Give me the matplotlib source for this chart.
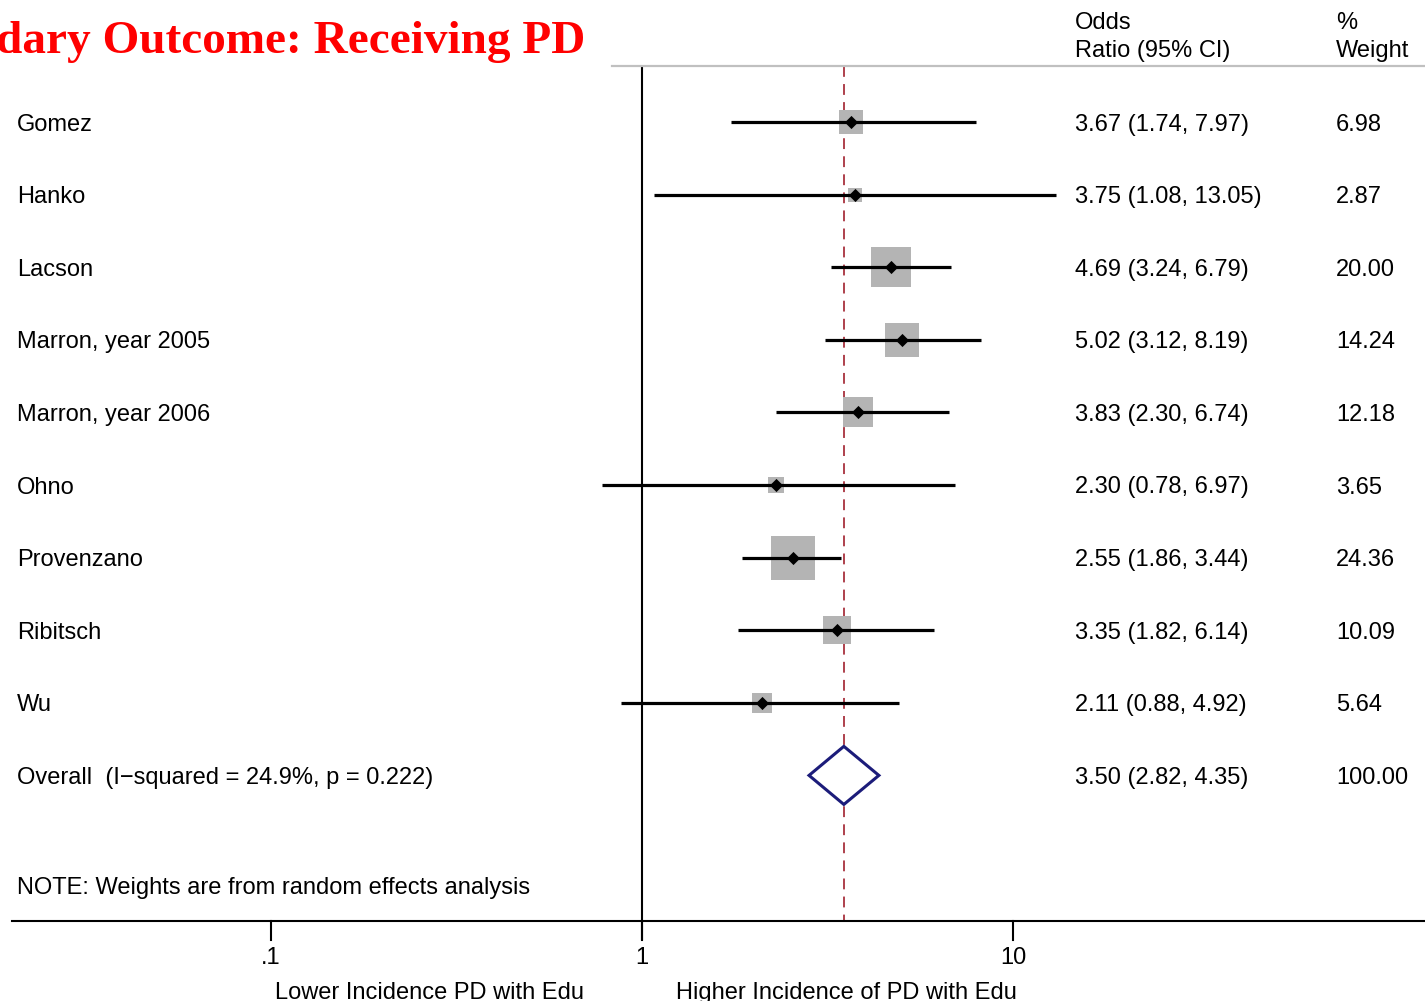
import numpy as np
import matplotlib
matplotlib.use("Agg")
import matplotlib.pyplot as plt
import matplotlib.transforms as transforms

# study data
studies = ["Gomez", "Hanko", "Lacson", "Marron, year 2005", "Marron, year 2006",
           "Ohno", "Provenzano", "Ribitsch", "Wu"]
odds = [3.67, 3.75, 4.69, 5.02, 3.83, 2.30, 2.55, 3.35, 2.11]
lower = [1.74, 1.08, 3.24, 3.12, 2.30, 0.78, 1.86, 1.82, 0.88]
upper = [7.97, 13.05, 6.79, 8.19, 6.74, 6.97, 3.44, 6.14, 4.92]
weights = [6.98, 2.87, 20.00, 14.24, 12.18, 3.65, 24.36, 10.09, 5.64]

overall_label = "Overall  (I\u2212squared = 24.9%, p = 0.222)"
overall = (3.50, 2.82, 4.35)
overall_weight = 100.00

xticks = [0.1, 1, 10]
xticklabels = [".1", "1", "10"]

# figure: one axes over the whole canvas, log x, rows on y
fig = plt.figure(figsize=(14.25, 10.01), dpi=100)
ax = fig.add_axes([0, 0, 1, 1])
ax.set_xscale("log")
decade = 371.0   # pixels per decade
x_one = 642.0    # pixel of OR = 1
row_h = 72.6
ax.set_xlim(10 ** (-x_one / decade), 10 ** ((1425 - x_one) / decade))
ax.set_ylim((1001 - 122) / row_h, -122 / row_h)
ax.axis("off")

blend = transforms.blended_transform_factory(ax.transAxes, ax.transData)
def fx(p):
    return p / 1425.0
def fy(p):
    return (p - 122) / row_h

font = "Liberation Sans"
fs = 17
tdy = 2.5 / row_h  # small nudge so text centres sit on the rows

top = fy(66)
bottom = len(studies) + 2  # axis row

# reference lines
ax.plot([1, 1], [top, bottom + 0.27], color="black", lw=1.5, solid_capstyle="butt")
ax.plot([overall[0], overall[0]], [top, bottom], color="#a8323e", lw=1.3,
        dashes=(6, 4))

# header rule and x axis
ax.plot([fx(612), 1], [top, top], color="#c0c0c0", lw=1.6, transform=blend)
ax.plot([fx(12), 1], [bottom, bottom], color="black", lw=1.5, transform=blend)
for t, lab in zip(xticks, xticklabels):
    ax.plot([t, t], [bottom, bottom + 0.27], color="black", lw=1.5)
    ax.text(t, fy(955) + tdy, lab, ha="center", va="center", fontsize=fs, family=font)

# studies
for i, (name, o, lo, hi, w) in enumerate(zip(studies, odds, lower, upper, weights)):
    side = 8.8 * np.sqrt(w) * 0.72
    ax.scatter([o], [i], marker="s", s=side ** 2, color="#b4b4b4", zorder=2,
               linewidths=0)
    ax.plot([lo, hi], [i, i], color="black", lw=2.3, zorder=3, solid_capstyle="butt")
    ax.scatter([o], [i], marker="D", s=45, color="black", zorder=4, linewidths=0)
    ax.text(fx(17), i + tdy, name, ha="left", va="center", fontsize=fs, family=font,
            transform=blend)
    ax.text(fx(1075), i + tdy, "%.2f (%.2f, %.2f)" % (o, lo, hi), ha="left",
            va="center", fontsize=fs, family=font, transform=blend)
    ax.text(fx(1336), i + tdy, "%.2f" % w, ha="left", va="center", fontsize=fs,
            family=font, transform=blend)

# overall diamond
n = len(studies)
est, lo, hi = overall
ax.fill([lo, est, hi, est, lo], [n, n - 0.4, n, n + 0.4, n], facecolor="white",
        edgecolor="#1c1c7a", lw=2.2, zorder=5)
ax.text(fx(17), n + tdy, overall_label, ha="left", va="center", fontsize=fs,
        family=font, transform=blend)
ax.text(fx(1075), n + tdy, "%.2f (%.2f, %.2f)" % overall, ha="left", va="center",
        fontsize=fs, family=font, transform=blend)
ax.text(fx(1336), n + tdy, "%.2f" % overall_weight, ha="left", va="center",
        fontsize=fs, family=font, transform=blend)

# note
ax.text(fx(17), fy(885) + tdy, "NOTE: Weights are from random effects analysis",
        ha="left", va="center", fontsize=fs, family=font, transform=blend)

# headers
ax.text(fx(1075), fy(20) + tdy, "Odds", ha="left", va="center", fontsize=fs,
        family=font, transform=blend)
ax.text(fx(1075), fy(48) + tdy, "Ratio (95% CI)", ha="left", va="center",
        fontsize=fs, family=font, transform=blend)
ax.text(fx(1336), fy(20) + tdy, "%", ha="left", va="center", fontsize=fs,
        family=font, transform=blend)
ax.text(fx(1336), fy(48) + tdy, "Weight", ha="left", va="center", fontsize=fs,
        family=font, transform=blend)

# direction labels
ax.text(fx(275), fy(990) + tdy, "Lower Incidence PD with Edu", ha="left",
        va="center", fontsize=fs, family=font, transform=blend)
ax.text(fx(676), fy(990) + tdy, "Higher Incidence of PD with Edu", ha="left",
        va="center", fontsize=fs, family=font, transform=blend)

# title (cut off on the left like the source)
ax.text(fx(585), fy(53), "Secondary Outcome: Receiving PD", ha="right", va="baseline",
        fontsize=34, family="Liberation Serif", weight="bold", color="red",
        transform=blend)

fig.savefig("out.png", dpi=100)
